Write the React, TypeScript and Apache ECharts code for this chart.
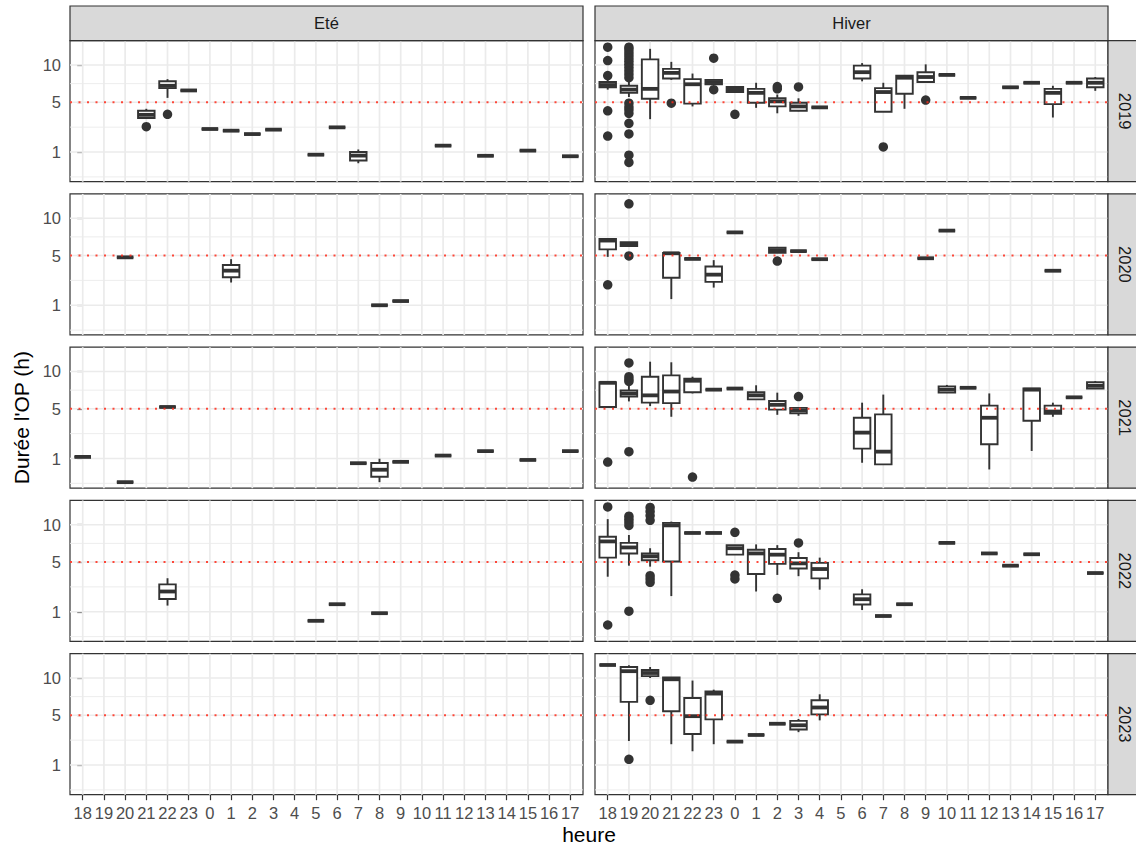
import React, { useEffect, useRef } from 'react';
import * as echarts from 'echarts';

// ---------- categories / labels ----------
const hours = ['18', '19', '20', '21', '22', '23', '0', '1', '2', '3', '4', '5', '6', '7', '8', '9', '10', '11', '12', '13', '14', '15', '16', '17'];
const seasons = ['Eté', 'Hiver'];
const years = ['2019', '2020', '2021', '2022', '2023'];
const yBreaks = [1, 5, 10];
const refLine = 5;
const xTitle = 'heure';
const yTitle = "Durée l'OP (h)";

// box = [heure, whisker low, q1, median, q3, whisker high]  (hours)
type Box = [string, number, number, number, number, number];
// outlier = [heure, value]
type Pt = [string, number];

// ---------- Eté ----------
const ete2019Boxes: Box[] = [
  ['21', 3.35, 3.4, 3.7, 4.1, 4.3],
  ['22', 5.5, 6.7, 7.0, 7.6, 7.9],
  ['23', 6.4, 6.4, 6.4, 6.4, 6.4],
  ['0', 2.47, 2.47, 2.47, 2.47, 2.47],
  ['1', 2.34, 2.34, 2.34, 2.34, 2.34],
  ['2', 2.09, 2.09, 2.09, 2.09, 2.09],
  ['3', 2.42, 2.42, 2.42, 2.42, 2.42],
  ['5', 0.87, 0.87, 0.87, 0.87, 0.87],
  ['6', 2.6, 2.6, 2.6, 2.6, 2.6],
  ['7', 0.52, 0.62, 0.83, 1.0, 1.13],
  ['11', 1.34, 1.34, 1.34, 1.34, 1.34],
  ['13', 0.82, 0.82, 0.82, 0.82, 0.82],
  ['15', 1.07, 1.07, 1.07, 1.07, 1.07],
  ['17', 0.8, 0.8, 0.8, 0.8, 0.8],
];
const ete2019Outliers: Pt[] = [['21', 2.65], ['22', 3.75]];

const ete2020Boxes: Box[] = [
  ['20', 4.8, 4.8, 4.8, 4.8, 4.8],
  ['1', 2.45, 2.88, 3.46, 4.0, 4.6],
  ['8', 1.0, 1.0, 1.0, 1.0, 1.0],
  ['9', 1.22, 1.22, 1.22, 1.22, 1.22],
];
const ete2020Outliers: Pt[] = [];

const ete2021Boxes: Box[] = [
  ['18', 1.08, 1.08, 1.08, 1.08, 1.08],
  ['20', 0.17, 0.17, 0.17, 0.17, 0.17],
  ['22', 5.2, 5.2, 5.2, 5.2, 5.2],
  ['7', 0.78, 0.78, 0.78, 0.78, 0.78],
  ['8', 0.17, 0.3, 0.52, 0.79, 0.99],
  ['9', 0.84, 0.84, 0.84, 0.84, 0.84],
  ['11', 1.15, 1.15, 1.15, 1.15, 1.15],
  ['13', 1.4, 1.4, 1.4, 1.4, 1.4],
  ['15', 0.93, 0.93, 0.93, 0.93, 0.93],
  ['17', 1.4, 1.4, 1.4, 1.4, 1.4],
];
const ete2021Outliers: Pt[] = [];

const ete2022Boxes: Box[] = [
  ['22', 1.33, 1.73, 2.26, 2.82, 3.36],
  ['5', 0.6, 0.6, 0.6, 0.6, 0.6],
  ['6', 1.41, 1.41, 1.41, 1.41, 1.41],
  ['8', 0.93, 0.93, 0.93, 0.93, 0.93],
];
const ete2022Outliers: Pt[] = [];

const ete2023Boxes: Box[] = [];
const ete2023Outliers: Pt[] = [];

// ---------- Hiver ----------
const hiver2019Boxes: Box[] = [
  ['18', 6.5, 6.8, 7.1, 7.5, 7.8],
  ['19', 5.6, 6.1, 6.5, 7.0, 7.6],
  ['20', 3.3, 5.4, 6.6, 10.9, 12.7],
  ['21', 7.8, 8.0, 8.8, 9.4, 10.5],
  ['22', 4.55, 4.85, 7.2, 7.9, 8.7],
  ['23', 7.2, 7.2, 7.5, 7.8, 7.8],
  ['0', 6.2, 6.2, 6.5, 6.85, 6.85],
  ['1', 4.4, 4.95, 6.1, 6.6, 7.4],
  ['2', 3.85, 4.55, 5.1, 5.45, 5.9],
  ['3', 4.05, 4.1, 4.55, 4.95, 5.45],
  ['4', 4.45, 4.45, 4.45, 4.45, 4.45],
  ['6', 7.6, 8.0, 8.9, 9.9, 10.3],
  ['7', 4.0, 4.0, 6.2, 6.7, 7.4],
  ['8', 4.3, 6.0, 8.1, 8.4, 8.4],
  ['9', 7.4, 7.5, 8.2, 8.9, 10.1],
  ['10', 8.5, 8.5, 8.5, 8.5, 8.5],
  ['11', 5.5, 5.5, 5.5, 5.5, 5.5],
  ['13', 6.8, 6.8, 6.8, 6.8, 6.8],
  ['14', 7.4, 7.4, 7.4, 7.4, 7.4],
  ['15', 3.45, 4.8, 6.1, 6.6, 7.0],
  ['16', 7.4, 7.4, 7.4, 7.4, 7.4],
  ['17', 6.35, 6.8, 7.4, 8.0, 8.2],
];
const hiver2019Outliers: Pt[] = [
  ['18', 13.0], ['18', 10.7], ['18', 8.4], ['18', 4.1], ['18', 1.95],
  ['19', 13.0], ['19', 12.6], ['19', 12.1], ['19', 11.6], ['19', 11.1], ['19', 10.6], ['19', 10.1],
  ['19', 9.6], ['19', 9.1], ['19', 8.6], ['19', 8.1],
  ['19', 4.9], ['19', 4.5], ['19', 4.2], ['19', 3.85], ['19', 2.93], ['19', 2.1], ['19', 0.85], ['19', 0.55],
  ['21', 4.9],
  ['23', 11.1], ['23', 6.5],
  ['0', 3.75],
  ['2', 6.9], ['2', 6.6],
  ['3', 6.85],
  ['7', 1.27],
  ['9', 5.25],
];

const hiver2020Boxes: Box[] = [
  ['18', 4.85, 5.7, 6.8, 7.0, 7.0],
  ['19', 6.1, 6.1, 6.35, 6.6, 6.6],
  ['21', 1.33, 2.83, 5.25, 5.3, 5.3],
  ['22', 4.63, 4.63, 4.63, 4.63, 4.63],
  ['23', 2.07, 2.5, 3.1, 3.85, 4.5],
  ['0', 7.9, 7.9, 7.9, 7.9, 7.9],
  ['2', 5.3, 5.3, 5.6, 5.9, 6.0],
  ['3', 5.5, 5.5, 5.5, 5.5, 5.5],
  ['4', 4.6, 4.6, 4.6, 4.6, 4.6],
  ['9', 4.7, 4.7, 4.7, 4.7, 4.7],
  ['10', 8.15, 8.15, 8.15, 8.15, 8.15],
  ['15', 3.45, 3.45, 3.45, 3.45, 3.45],
];
const hiver2020Outliers: Pt[] = [['18', 2.27], ['19', 12.4], ['19', 4.95], ['2', 4.4]];

const hiver2021Boxes: Box[] = [
  ['18', 5.2, 5.2, 8.3, 8.4, 8.5],
  ['19', 5.85, 6.45, 6.85, 7.25, 7.9],
  ['20', 5.3, 5.7, 6.6, 9.2, 11.6],
  ['21', 4.15, 5.65, 7.1, 9.4, 11.5],
  ['22', 6.85, 7.0, 8.6, 8.9, 9.2],
  ['23', 7.35, 7.35, 7.35, 7.35, 7.35],
  ['0', 7.5, 7.5, 7.5, 7.5, 7.5],
  ['1', 6.1, 6.1, 6.6, 7.0, 7.95],
  ['2', 4.35, 4.9, 5.45, 5.9, 6.95],
  ['3', 4.25, 4.5, 4.8, 5.1, 5.1],
  ['6', 0.8, 1.55, 2.7, 4.05, 5.7],
  ['7', 0.73, 0.73, 1.37, 4.4, 6.7],
  ['10', 6.9, 6.95, 7.35, 7.8, 8.0],
  ['11', 7.6, 7.6, 7.6, 7.6, 7.6],
  ['12', 0.53, 1.83, 4.05, 5.35, 6.85],
  ['14', 1.41, 3.75, 7.35, 7.5, 7.5],
  ['15', 4.15, 4.45, 4.7, 5.35, 5.7],
  ['16', 6.35, 6.35, 6.35, 6.35, 6.35],
  ['17', 7.5, 7.5, 7.9, 8.4, 8.55],
];
const hiver2021Outliers: Pt[] = [
  ['18', 0.83],
  ['19', 11.4], ['19', 9.2], ['19', 8.8], ['19', 8.5], ['19', 1.37],
  ['22', 0.29],
  ['3', 6.45],
];

const hiver2022Boxes: Box[] = [
  ['18', 3.5, 5.5, 7.55, 8.2, 10.9],
  ['19', 4.6, 6.0, 6.75, 7.35, 8.45],
  ['20', 4.5, 5.2, 5.65, 6.0, 6.65],
  ['21', 1.93, 5.05, 9.9, 10.3, 10.5],
  ['22', 8.75, 8.75, 8.75, 8.75, 8.75],
  ['23', 8.75, 8.75, 8.75, 8.75, 8.75],
  ['0', 5.85, 5.85, 6.65, 7.05, 7.05],
  ['1', 2.26, 3.75, 6.0, 6.45, 7.15],
  ['2', 3.67, 4.8, 5.85, 6.55, 7.05],
  ['3', 3.55, 4.3, 4.85, 5.45, 6.15],
  ['4', 2.4, 3.35, 4.25, 4.9, 5.5],
  ['6', 1.09, 1.39, 1.72, 2.05, 2.43],
  ['7', 0.8, 0.8, 0.8, 0.8, 0.8],
  ['8', 1.41, 1.41, 1.41, 1.41, 1.41],
  ['10', 7.35, 7.35, 7.35, 7.35, 7.35],
  ['12', 6.0, 6.0, 6.0, 6.0, 6.0],
  ['13', 4.6, 4.6, 4.6, 4.6, 4.6],
  ['14', 5.9, 5.9, 5.9, 5.9, 5.9],
  ['17', 3.85, 3.85, 3.85, 3.85, 3.85],
];
const hiver2022Outliers: Pt[] = [
  ['18', 13.0], ['18', 0.45],
  ['19', 11.4], ['19', 10.9], ['19', 10.4], ['19', 9.9], ['19', 1.03],
  ['20', 12.9], ['20', 12.2], ['20', 11.5], ['20', 10.7], ['20', 3.6], ['20', 3.3], ['20', 3.0],
  ['0', 8.85], ['0', 3.65], ['0', 3.3],
  ['2', 1.78],
  ['3', 7.35],
];

const hiver2023Boxes: Box[] = [
  ['18', 12.15, 12.15, 12.15, 12.15, 12.15],
  ['19', 2.55, 6.6, 11.1, 11.8, 12.1],
  ['20', 10.0, 10.3, 10.8, 11.3, 11.8],
  ['21', 2.3, 5.45, 9.8, 10.1, 10.1],
  ['22', 1.8, 3.13, 4.9, 7.1, 9.6],
  ['23', 2.3, 4.55, 7.7, 8.0, 8.25],
  ['0', 2.5, 2.5, 2.5, 2.5, 2.5],
  ['1', 3.05, 3.05, 3.05, 3.05, 3.05],
  ['2', 4.1, 4.1, 4.1, 4.1, 4.1],
  ['3', 3.3, 3.55, 3.95, 4.4, 4.6],
  ['4', 4.45, 5.1, 5.9, 6.8, 7.6],
];
const hiver2023Outliers: Pt[] = [['19', 1.3], ['20', 6.8]];

// panels[row][col]
const panelBoxes: Box[][][] = [
  [ete2019Boxes, hiver2019Boxes],
  [ete2020Boxes, hiver2020Boxes],
  [ete2021Boxes, hiver2021Boxes],
  [ete2022Boxes, hiver2022Boxes],
  [ete2023Boxes, hiver2023Boxes],
];
const panelOutliers: Pt[][][] = [
  [ete2019Outliers, hiver2019Outliers],
  [ete2020Outliers, hiver2020Outliers],
  [ete2021Outliers, hiver2021Outliers],
  [ete2022Outliers, hiver2022Outliers],
  [ete2023Outliers, hiver2023Outliers],
];

// ---------- layout ----------
const PANEL_LEFT = [70, 595];
const PANEL_W = 513;
const PANEL_TOP0 = 40.7;
const PANEL_STEP = 153.25;
const PANEL_H = 141;
const STRIP = 34.7;
const X_MIN = -0.6;
const X_MAX = 23.6;
const Y_MIN = 0.262; // sqrt scale limits
const Y_MAX = 3.766;
const BOX_W = 0.78;

const FONT = '"Liberation Sans", Arial, Helvetica, sans-serif';
const DARK = '#333333';
const GRID = '#EBEBEB';

export default function App() {
  const ref = useRef<HTMLDivElement>(null);

  useEffect(() => {
    document.body.style.margin = '0';
    const chart = echarts.init(ref.current!, null, { renderer: 'svg' });

    const sq = Math.sqrt;
    const yBreakVals = yBreaks.map(sq);
    // minor breaks like ggplot (midpoints in transformed space, extended one step)
    const ext = [yBreakVals[0] - (yBreakVals[1] - yBreakVals[0]), ...yBreakVals];
    const minor: number[] = [];
    for (let i = 0; i < ext.length - 1; i++) {
      const m = (ext[i] + ext[i + 1]) / 2;
      if (m > Y_MIN && m < Y_MAX) minor.push(m);
    }

    const grids: any[] = [];
    const xAxes: any[] = [];
    const yAxes: any[] = [];
    const series: any[] = [];
    const graphics: any[] = [];

    const tickIdx = hours.map((_, i) => i);

    for (let r = 0; r < years.length; r++) {
      for (let c = 0; c < seasons.length; c++) {
        const idx = r * 2 + c;
        const top = PANEL_TOP0 + r * PANEL_STEP;
        grids.push({
          left: PANEL_LEFT[c], top, width: PANEL_W, height: PANEL_H,
          show: true, borderColor: DARK, borderWidth: 1.2, backgroundColor: '#ffffff',
        });
        const bottom = r === years.length - 1;
        xAxes.push({
          gridIndex: idx, type: 'value', min: X_MIN, max: X_MAX,
          axisLine: { show: false }, splitLine: { show: false },
          axisTick: { show: bottom, customValues: tickIdx, length: 5.5, lineStyle: { color: DARK, width: 1.2 } },
          axisLabel: {
            show: bottom, customValues: tickIdx, margin: 10,
            formatter: (v: number) => hours[Math.round(v)] ?? '',
            color: '#4D4D4D', fontSize: 16.5, fontFamily: FONT,
          },
        });
        yAxes.push({
          gridIndex: idx, type: 'value', min: Y_MIN, max: Y_MAX,
          axisLine: { show: false }, splitLine: { show: false },
          axisTick: { show: c === 0, customValues: yBreakVals, length: 5.5, lineStyle: { color: DARK, width: 1.2 } },
          axisLabel: {
            show: c === 0, customValues: yBreakVals, margin: 9,
            formatter: (v: number) => String(Math.round(v * v)),
            color: '#4D4D4D', fontSize: 16.5, fontFamily: FONT,
          },
        });

        // grid lines (kind 0 = major horizontal, 1 = minor horizontal, 2 = vertical)
        const gridData: number[][] = [
          ...yBreakVals.map((v) => [0, v]),
          ...minor.map((v) => [1, v]),
          ...tickIdx.map((v) => [2, v]),
        ];
        series.push({
          type: 'custom', xAxisIndex: idx, yAxisIndex: idx, z: 1, silent: true,
          data: gridData,
          renderItem: (_p: any, api: any) => {
            const kind = api.value(0);
            const v = api.value(1);
            if (kind === 2) {
              const a = api.coord([v, Y_MIN]);
              const b = api.coord([v, Y_MAX]);
              return { type: 'line', shape: { x1: a[0], y1: a[1], x2: b[0], y2: b[1] }, style: { stroke: GRID, lineWidth: 1.7 } };
            }
            const a = api.coord([X_MIN, v]);
            const b = api.coord([X_MAX, v]);
            return { type: 'line', shape: { x1: a[0], y1: a[1], x2: b[0], y2: b[1] }, style: { stroke: GRID, lineWidth: kind === 0 ? 1.7 : 0.9 } };
          },
        });

        // boxes
        const boxes = panelBoxes[r][c].map((b) => [hours.indexOf(b[0]), sq(b[1]), sq(b[2]), sq(b[3]), sq(b[4]), sq(b[5])]);
        series.push({
          type: 'custom', xAxisIndex: idx, yAxisIndex: idx, z: 3, silent: true,
          data: boxes,
          encode: { x: 0, y: [1, 2, 3, 4, 5] },
          renderItem: (_p: any, api: any) => {
            const x = api.value(0);
            const lo = api.coord([x, api.value(1)]);
            const q1 = api.coord([x, api.value(2)]);
            const md = api.coord([x, api.value(3)]);
            const q3 = api.coord([x, api.value(4)]);
            const hi = api.coord([x, api.value(5)]);
            const w = api.size([BOX_W, 0])[0];
            const cx = lo[0];
            const l = cx - w / 2;
            const rr = cx + w / 2;
            const st = { stroke: DARK, lineWidth: 1.9 };
            return {
              type: 'group',
              children: [
                { type: 'line', shape: { x1: cx, y1: hi[1], x2: cx, y2: q3[1] }, style: st },
                { type: 'line', shape: { x1: cx, y1: q1[1], x2: cx, y2: lo[1] }, style: st },
                {
                  type: 'polygon',
                  shape: { points: [[l, q3[1]], [rr, q3[1]], [rr, q1[1]], [l, q1[1]]] },
                  style: { fill: '#ffffff', stroke: DARK, lineWidth: 1.9 },
                },
                { type: 'line', shape: { x1: l, y1: md[1], x2: rr, y2: md[1] }, style: { stroke: DARK, lineWidth: 3.8 } },
              ],
            };
          },
        });

        // outliers
        series.push({
          type: 'scatter', xAxisIndex: idx, yAxisIndex: idx, z: 4, silent: true,
          symbol: 'circle', symbolSize: 9.5,
          itemStyle: { color: DARK, opacity: 1 },
          data: panelOutliers[r][c].map((p) => [hours.indexOf(p[0]), sq(p[1])]),
        });

        // red dotted reference line
        series.push({
          type: 'custom', xAxisIndex: idx, yAxisIndex: idx, z: 5, silent: true,
          data: [[sq(refLine)]],
          renderItem: (_p: any, api: any) => {
            const v = api.value(0);
            const a = api.coord([X_MIN, v]);
            const b = api.coord([X_MAX, v]);
            return { type: 'line', shape: { x1: a[0], y1: a[1], x2: b[0], y2: b[1] }, style: { stroke: '#FF2A1A', lineWidth: 2, lineDash: [2, 6.5], opacity: 0.85 } };
          },
        });

        // right strip
        if (c === 1) {
          graphics.push({
            type: 'rect', shape: { x: 1108, y: top, width: STRIP, height: PANEL_H },
            style: { fill: '#D9D9D9', stroke: DARK, lineWidth: 1.2 }, z: 10,
          });
          graphics.push({
            type: 'text', x: 1108 + STRIP / 2, y: top + PANEL_H / 2, rotation: -Math.PI / 2, z: 11,
            style: { text: years[r], font: `16.5px ${FONT}`, fill: '#1A1A1A', align: 'center', verticalAlign: 'middle', textAlign: 'center', textVerticalAlign: 'middle' },
          });
        }
      }
    }

    // top strips
    for (let c = 0; c < seasons.length; c++) {
      graphics.push({
        type: 'rect', shape: { x: PANEL_LEFT[c], y: PANEL_TOP0 - STRIP, width: PANEL_W, height: STRIP },
        style: { fill: '#D9D9D9', stroke: DARK, lineWidth: 1.2 }, z: 10,
      });
      graphics.push({
        type: 'text', x: PANEL_LEFT[c] + PANEL_W / 2, y: PANEL_TOP0 - STRIP / 2, z: 11,
        style: { text: seasons[c], font: `16.5px ${FONT}`, fill: '#1A1A1A', align: 'center', verticalAlign: 'middle', textAlign: 'center', textVerticalAlign: 'middle' },
      });
    }

    // axis titles
    const panelsBottom = PANEL_TOP0 + (years.length - 1) * PANEL_STEP + PANEL_H;
    graphics.push({
      type: 'text', x: 21, y: (PANEL_TOP0 + panelsBottom) / 2, rotation: Math.PI / 2, z: 11,
      style: { text: yTitle, font: `21px ${FONT}`, fill: '#000000', align: 'center', verticalAlign: 'middle', textAlign: 'center', textVerticalAlign: 'middle' },
    });
    graphics.push({
      type: 'text', x: (PANEL_LEFT[0] + PANEL_LEFT[1] + PANEL_W) / 2, y: 834, z: 11,
      style: { text: xTitle, font: `21px ${FONT}`, fill: '#000000', align: 'center', verticalAlign: 'middle', textAlign: 'center', textVerticalAlign: 'middle' },
    });

    chart.setOption({
      animation: false,
      backgroundColor: '#ffffff',
      textStyle: { fontFamily: FONT },
      grid: grids,
      xAxis: xAxes,
      yAxis: yAxes,
      series,
      graphic: { elements: graphics },
    });

    return () => chart.dispose();
  }, []);

  return <div ref={ref} style={{ width: 1136, height: 849 }} />;
}
